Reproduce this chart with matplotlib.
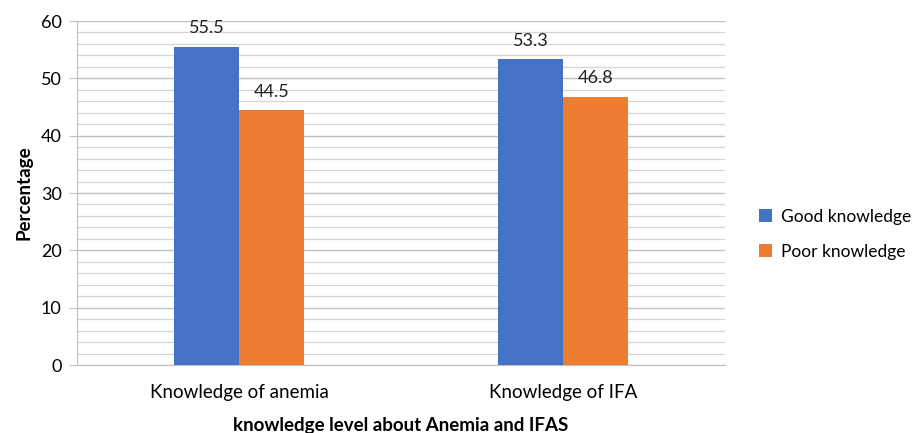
import matplotlib
matplotlib.use("Agg")
import matplotlib.pyplot as plt
import numpy as np
from matplotlib.ticker import MultipleLocator

categories = ["Knowledge of anemia", "Knowledge of IFA"]
series_names = ["Good knowledge", "Poor knowledge"]
good = [55.5, 53.3]
poor = [44.5, 46.8]
colors = ["#4472C4", "#ED7D31"]

plt.rcParams['font.family'] = ['Lato', 'DejaVu Sans']

fig = plt.figure(figsize=(9.16, 4.33), dpi=100)
ax = fig.add_axes([0.0841, 0.157, 0.7074, 0.7945])

x = np.arange(len(categories))
w = 0.2
b1 = ax.bar(x - w / 2, good, w, color=colors[0], label=series_names[0], zorder=3)
b2 = ax.bar(x + w / 2, poor, w, color=colors[1], label=series_names[1], zorder=3)
for bars, vals in ((b1, good), (b2, poor)):
    for rect, v in zip(bars, vals):
        ax.text(rect.get_x() + rect.get_width() / 2, v + 1.8, f"{v}",
                ha="center", va="bottom", fontsize=13, color="#222222")

ax.set_xlim(-0.5, 1.5)
ax.set_ylim(0, 60)
ax.yaxis.set_major_locator(MultipleLocator(10))
ax.yaxis.set_minor_locator(MultipleLocator(2))
ax.grid(axis="y", which="major", color="#c0c0c0", linewidth=1, zorder=0)
ax.grid(axis="y", which="minor", color="#d4d4d4", linewidth=0.9, zorder=0)
ax.set_xticks(x)
ax.set_xticklabels(categories, fontsize=13.5)
ax.tick_params(axis="x", length=0, pad=14)
ax.tick_params(axis="y", which="major", labelsize=13, length=6, color="#bfbfbf", pad=5)
ax.tick_params(axis="y", which="minor", length=0)
for s in ("top", "right"):
    ax.spines[s].set_visible(False)
ax.spines["left"].set_color("#bfbfbf")
ax.spines["bottom"].set_color("#bfbfbf")

ax.set_ylabel("Percentage", fontsize=13.5, fontweight="bold", labelpad=6)
ax.set_xlabel("knowledge level about Anemia and IFAS", fontsize=13.5, fontweight="bold", labelpad=11)

ax.legend(loc="center left", bbox_to_anchor=(1.037, 0.38), frameon=False, fontsize=12.5,
          handlelength=0.75, handleheight=0.75, labelspacing=1.1, handletextpad=0.5,
          borderaxespad=0.2)

fig.savefig("out.png", dpi=100)
